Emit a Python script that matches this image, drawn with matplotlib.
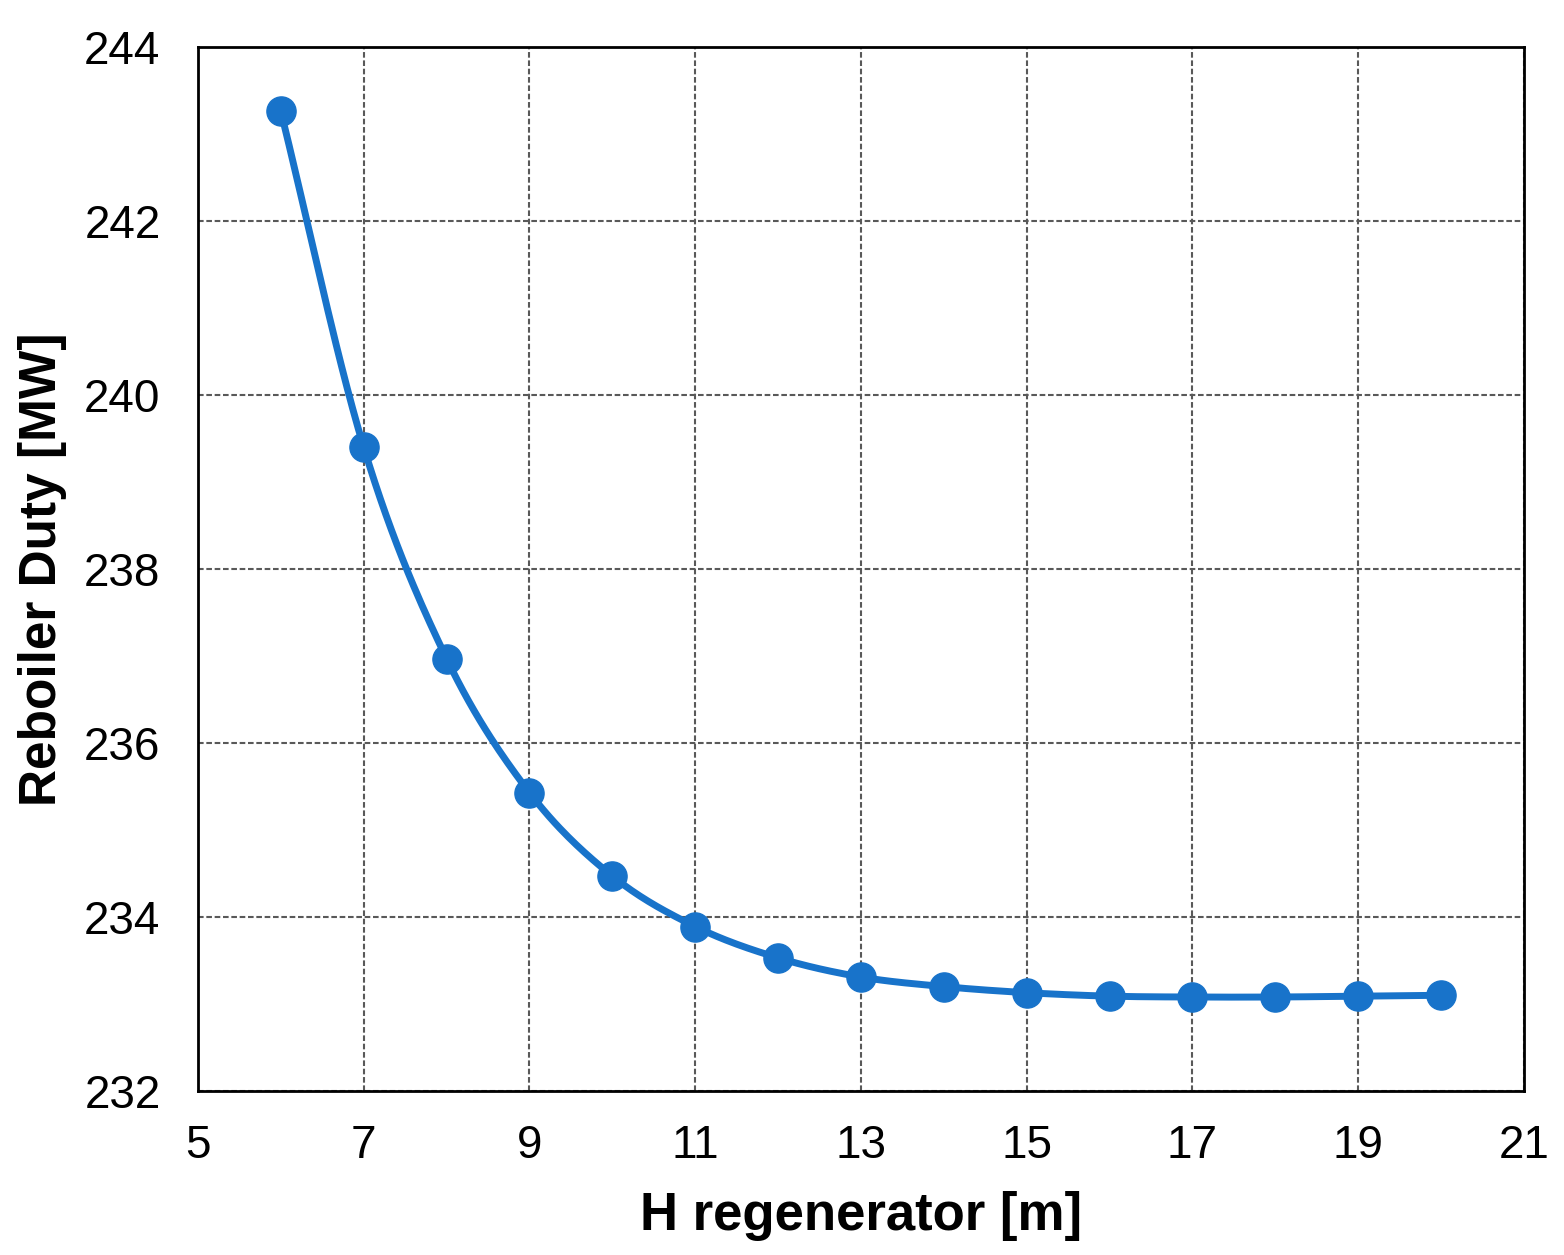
import numpy as np
import matplotlib.pyplot as plt

# reboiler duty vs regenerator height
height = [6, 7, 8, 9, 10, 11, 12, 13, 14, 15, 16, 17, 18, 19, 20]
duty = [243.26, 239.40, 236.97, 235.43, 234.47, 233.89, 233.53, 233.31,
        233.20, 233.13, 233.09, 233.08, 233.08, 233.09, 233.10]

xticks = [5, 7, 9, 11, 13, 15, 17, 19, 21]
yticks = [232, 234, 236, 238, 240, 242, 244]

blue = '#1873CA'


def smooth(x, y, n=30):
    # catmull-rom through the points, like excel's smoothed line
    x = np.asarray(x, float)
    y = np.asarray(y, float)
    px = np.concatenate([[2 * x[0] - x[1]], x, [2 * x[-1] - x[-2]]])
    py = np.concatenate([[2 * y[0] - y[1]], y, [2 * y[-1] - y[-2]]])
    t = np.linspace(0, 1, n, endpoint=False)
    xs, ys = [], []
    for i in range(1, len(px) - 2):
        for p, out in ((px, xs), (py, ys)):
            p0, p1, p2, p3 = p[i - 1], p[i], p[i + 1], p[i + 2]
            out.append(0.5 * (2 * p1 + (-p0 + p2) * t
                              + (2 * p0 - 5 * p1 + 4 * p2 - p3) * t ** 2
                              + (-p0 + 3 * p1 - 3 * p2 + p3) * t ** 3))
    xs.append([x[-1]])
    ys.append([y[-1]])
    return np.concatenate(xs), np.concatenate(ys)


plt.rcParams['font.family'] = ['Liberation Sans', 'DejaVu Sans']

fig = plt.figure(figsize=(15.64, 12.55), dpi=100)
ax = fig.add_axes([0.1266, 0.1307, 0.8478, 0.8318])

sx, sy = smooth(height, duty)
ax.plot(sx, sy, color=blue, lw=5, solid_capstyle='round', zorder=3)
ax.plot(height, duty, 'o', color=blue, ms=21, zorder=4)

ax.set_xlim(5, 21)
ax.set_ylim(232, 244)
ax.set_xticks(xticks)
ax.set_yticks(yticks)
ax.grid(True, ls=(0, (2.7, 1.3)), color='#595959', lw=1.5)
ax.set_axisbelow(True)

for s in ax.spines.values():
    s.set_linewidth(2)
ax.tick_params(length=0, labelsize=33)
ax.tick_params(axis='x', pad=24)
ax.tick_params(axis='y', pad=27)

ax.set_xlabel('H regenerator [m]', fontsize=38, fontweight='bold', labelpad=16)
ax.set_ylabel('Reboiler Duty [MW]', fontsize=37, fontweight='bold', labelpad=12)

fig.savefig('out.png', dpi=100)
